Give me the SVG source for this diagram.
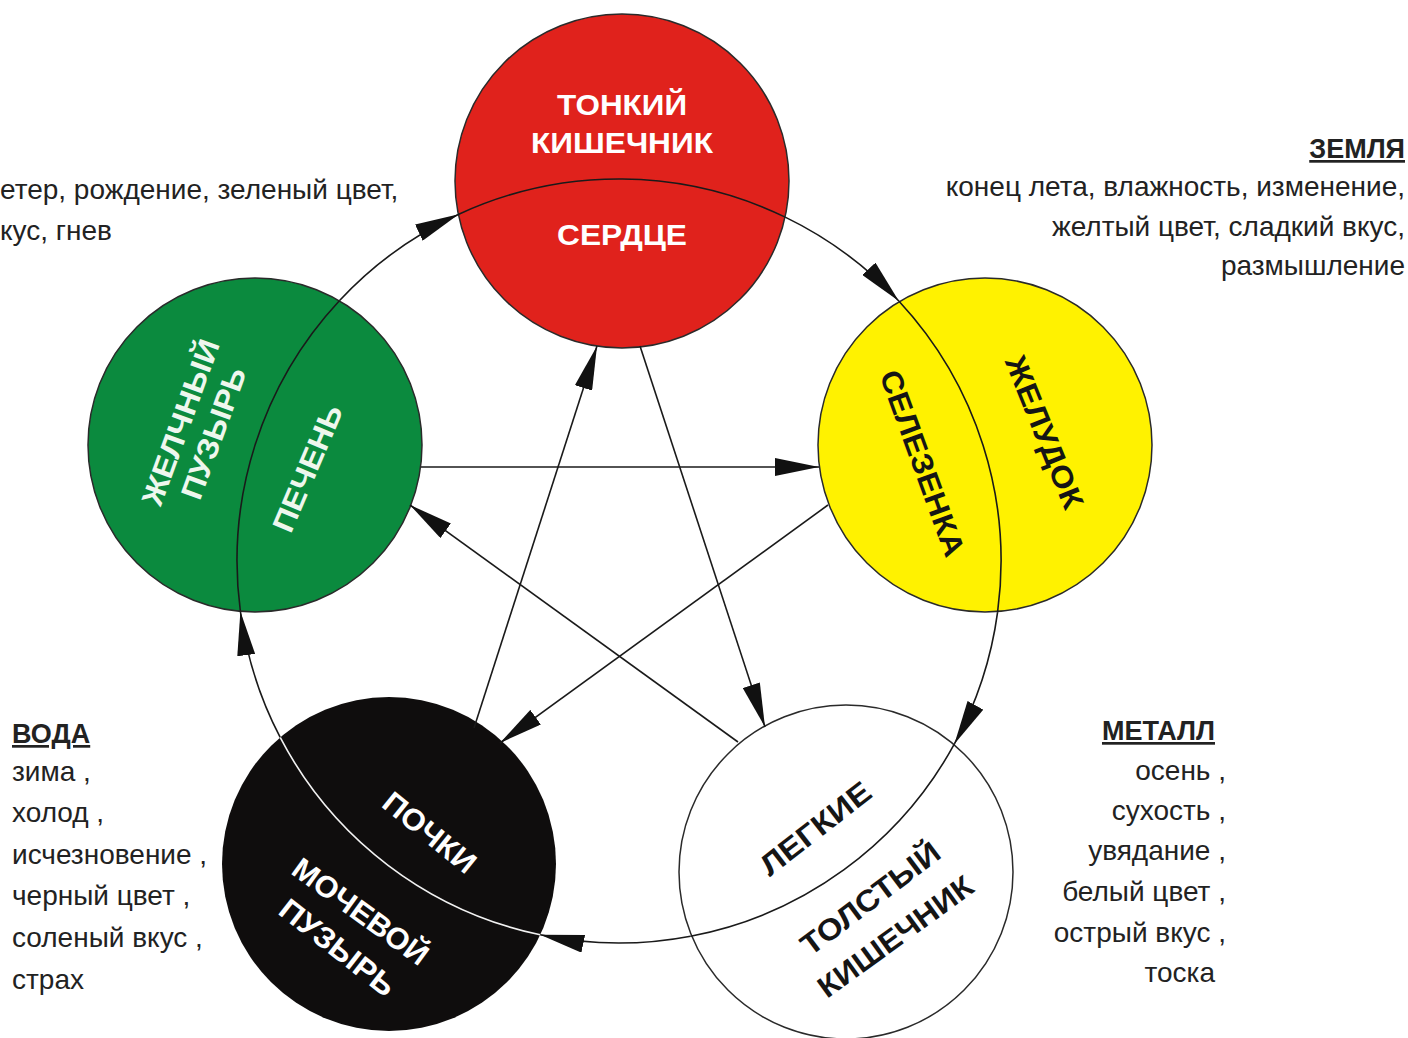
<svg xmlns="http://www.w3.org/2000/svg" width="1408" height="1038" viewBox="0 0 1408 1038">
<defs>
<style>
.desc{font-family:"Liberation Sans",Arial,sans-serif;font-size:28px;fill:#222222}
.head{font-family:"Liberation Sans",Arial,sans-serif;font-size:27px;font-weight:bold;fill:#222222;text-decoration:underline}
.lbl{font-family:"Liberation Sans",Arial,sans-serif;font-size:30px;font-weight:bold;text-anchor:middle}
.lw{fill:#ffffff}
.lg{fill:#eef7ee}
.lk{fill:#151515}
.node{stroke:#2a2a2a;stroke-width:1.5}
.div{fill:none;stroke:#1a1a1a;stroke-width:1.6}
.conn{fill:none;stroke:#1a1a1a;stroke-width:1.6}
</style>
<marker id="ah" viewBox="0 0 44 18" refX="44" refY="9" markerWidth="44" markerHeight="18" markerUnits="userSpaceOnUse" orient="auto">
<path d="M0,0 L44,9 L0,18 Z" fill="#111"/>
</marker>
</defs>
<rect x="0" y="0" width="1408" height="1038" fill="#ffffff"/>

<g id="node-fire">
<circle class="node" cx="622" cy="181" r="167" fill="#e0221c"/>
<path class="div" d="M458.8,214.2 A382,382 0 0 1 785.2,217.1"/>
<text class="lbl lw" x="622" y="115" textLength="130" lengthAdjust="spacingAndGlyphs">ТОНКИЙ</text>
<text class="lbl lw" x="622" y="153" textLength="182" lengthAdjust="spacingAndGlyphs">КИШЕЧНИК</text>
<text class="lbl lw" x="622" y="245" textLength="130" lengthAdjust="spacingAndGlyphs">СЕРДЦЕ</text>
</g>

<g id="node-wood">
<circle class="node" cx="255" cy="445" r="167" fill="#0b8a3e"/>
<path class="div" d="M240.4,611.5 A382,382 0 0 1 339.6,300.5"/>
<text class="lbl lg" transform="translate(180,422) rotate(-70)" x="0" y="11" textLength="174" lengthAdjust="spacingAndGlyphs">ЖЕЛЧНЫЙ</text>
<text class="lbl lg" transform="translate(213,433) rotate(-70)" x="0" y="11" textLength="138" lengthAdjust="spacingAndGlyphs">ПУЗЫРЬ</text>
<text class="lbl lg" transform="translate(307,468) rotate(-67)" x="0" y="11" textLength="135" lengthAdjust="spacingAndGlyphs">ПЕЧЕНЬ</text>
</g>

<g id="node-earth">
<circle class="node" cx="985" cy="445" r="167" fill="#fff200"/>
<path class="div" d="M898.8,301 A382,382 0 0 1 997.6,612.2"/>
<text class="lbl lk" transform="translate(923,463) rotate(70)" x="0" y="11" textLength="196" lengthAdjust="spacingAndGlyphs">СЕЛЕЗЕНКА</text>
<text class="lbl lk" transform="translate(1045,432) rotate(68)" x="0" y="11" textLength="162" lengthAdjust="spacingAndGlyphs">ЖЕЛУДОК</text>
</g>

<g id="node-metal">
<circle class="node" cx="846" cy="872" r="167" fill="#ffffff"/>
<path class="div" d="M954.4,743.9 A382,382 0 0 1 690.6,936.2"/>
<text class="lbl lk" transform="translate(815,828) rotate(-38)" x="0" y="11" textLength="132" lengthAdjust="spacingAndGlyphs">ЛЕГКИЕ</text>
<text class="lbl lk" transform="translate(870,898) rotate(-37)" x="0" y="11" textLength="166" lengthAdjust="spacingAndGlyphs">ТОЛСТЫЙ</text>
<text class="lbl lk" transform="translate(895,936) rotate(-36)" x="0" y="11" textLength="184" lengthAdjust="spacingAndGlyphs">КИШЕЧНИК</text>
</g>

<g id="node-water">
<circle cx="389" cy="864" r="167" fill="#0f0d0d"/>
<path d="M540.2,934.8 A382,382 0 0 1 280.2,737.4" fill="none" stroke="#f2f2f2" stroke-width="1.6"/>
<text class="lbl lw" transform="translate(430,832) rotate(39)" x="0" y="11" textLength="110" lengthAdjust="spacingAndGlyphs">ПОЧКИ</text>
<text class="lbl lw" transform="translate(361,911) rotate(36)" x="0" y="11" textLength="160" lengthAdjust="spacingAndGlyphs">МОЧЕВОЙ</text>
<text class="lbl lw" transform="translate(338,947) rotate(38)" x="0" y="11" textLength="138" lengthAdjust="spacingAndGlyphs">ПУЗЫРЬ</text>
</g>

<g id="connectors">
<path class="conn" marker-end="url(#ah)" d="M339.6,300.5 A382,382 0 0 1 458.8,214.2"/>
<path class="conn" marker-end="url(#ah)" d="M785.2,217.1 A382,382 0 0 1 898.8,301"/>
<path class="conn" marker-end="url(#ah)" d="M997.6,612.2 A382,382 0 0 1 954.4,743.9"/>
<path class="conn" marker-end="url(#ah)" d="M690.6,936.2 A382,382 0 0 1 540.2,934.8"/>
<path class="conn" marker-end="url(#ah)" d="M280.2,737.4 A382,382 0 0 1 240.4,611.5"/>
<path class="conn" marker-end="url(#ah)" d="M421,467 L819,467"/>
<path class="conn" marker-end="url(#ah)" d="M828,505 L500,743"/>
<path class="conn" marker-end="url(#ah)" d="M474,728 L597,346"/>
<path class="conn" marker-end="url(#ah)" d="M640,346 L765,727"/>
<path class="conn" marker-end="url(#ah)" d="M738,742 L410,505"/>
</g>

<g id="text-wood">
<text class="desc" x="0" y="199">етер, рождение, зеленый цвет,</text>
<text class="desc" x="0" y="240">кус, гнев</text>
</g>

<g id="text-earth" text-anchor="end">
<text class="head" x="1405" y="158">ЗЕМЛЯ</text>
<text class="desc" x="1405" y="196">конец лета, влажность, изменение,</text>
<text class="desc" x="1405" y="236">желтый цвет, сладкий вкус,</text>
<text class="desc" x="1405" y="275">размышление</text>
</g>

<g id="text-water">
<text class="head" x="12" y="743">ВОДА</text>
<text class="desc" x="12" y="781">зима ,</text>
<text class="desc" x="12" y="822">холод ,</text>
<text class="desc" x="12" y="864">исчезновение ,</text>
<text class="desc" x="12" y="905">черный цвет ,</text>
<text class="desc" x="12" y="947">соленый вкус ,</text>
<text class="desc" x="12" y="989">страх</text>
</g>

<g id="text-metal" text-anchor="end">
<text class="head" x="1215" y="740">МЕТАЛЛ</text>
<text class="desc" x="1226" y="780">осень ,</text>
<text class="desc" x="1226" y="820">сухость ,</text>
<text class="desc" x="1226" y="860">увядание ,</text>
<text class="desc" x="1226" y="901">белый цвет ,</text>
<text class="desc" x="1226" y="942">острый вкус ,</text>
<text class="desc" x="1215" y="982">тоска</text>
</g>
</svg>
